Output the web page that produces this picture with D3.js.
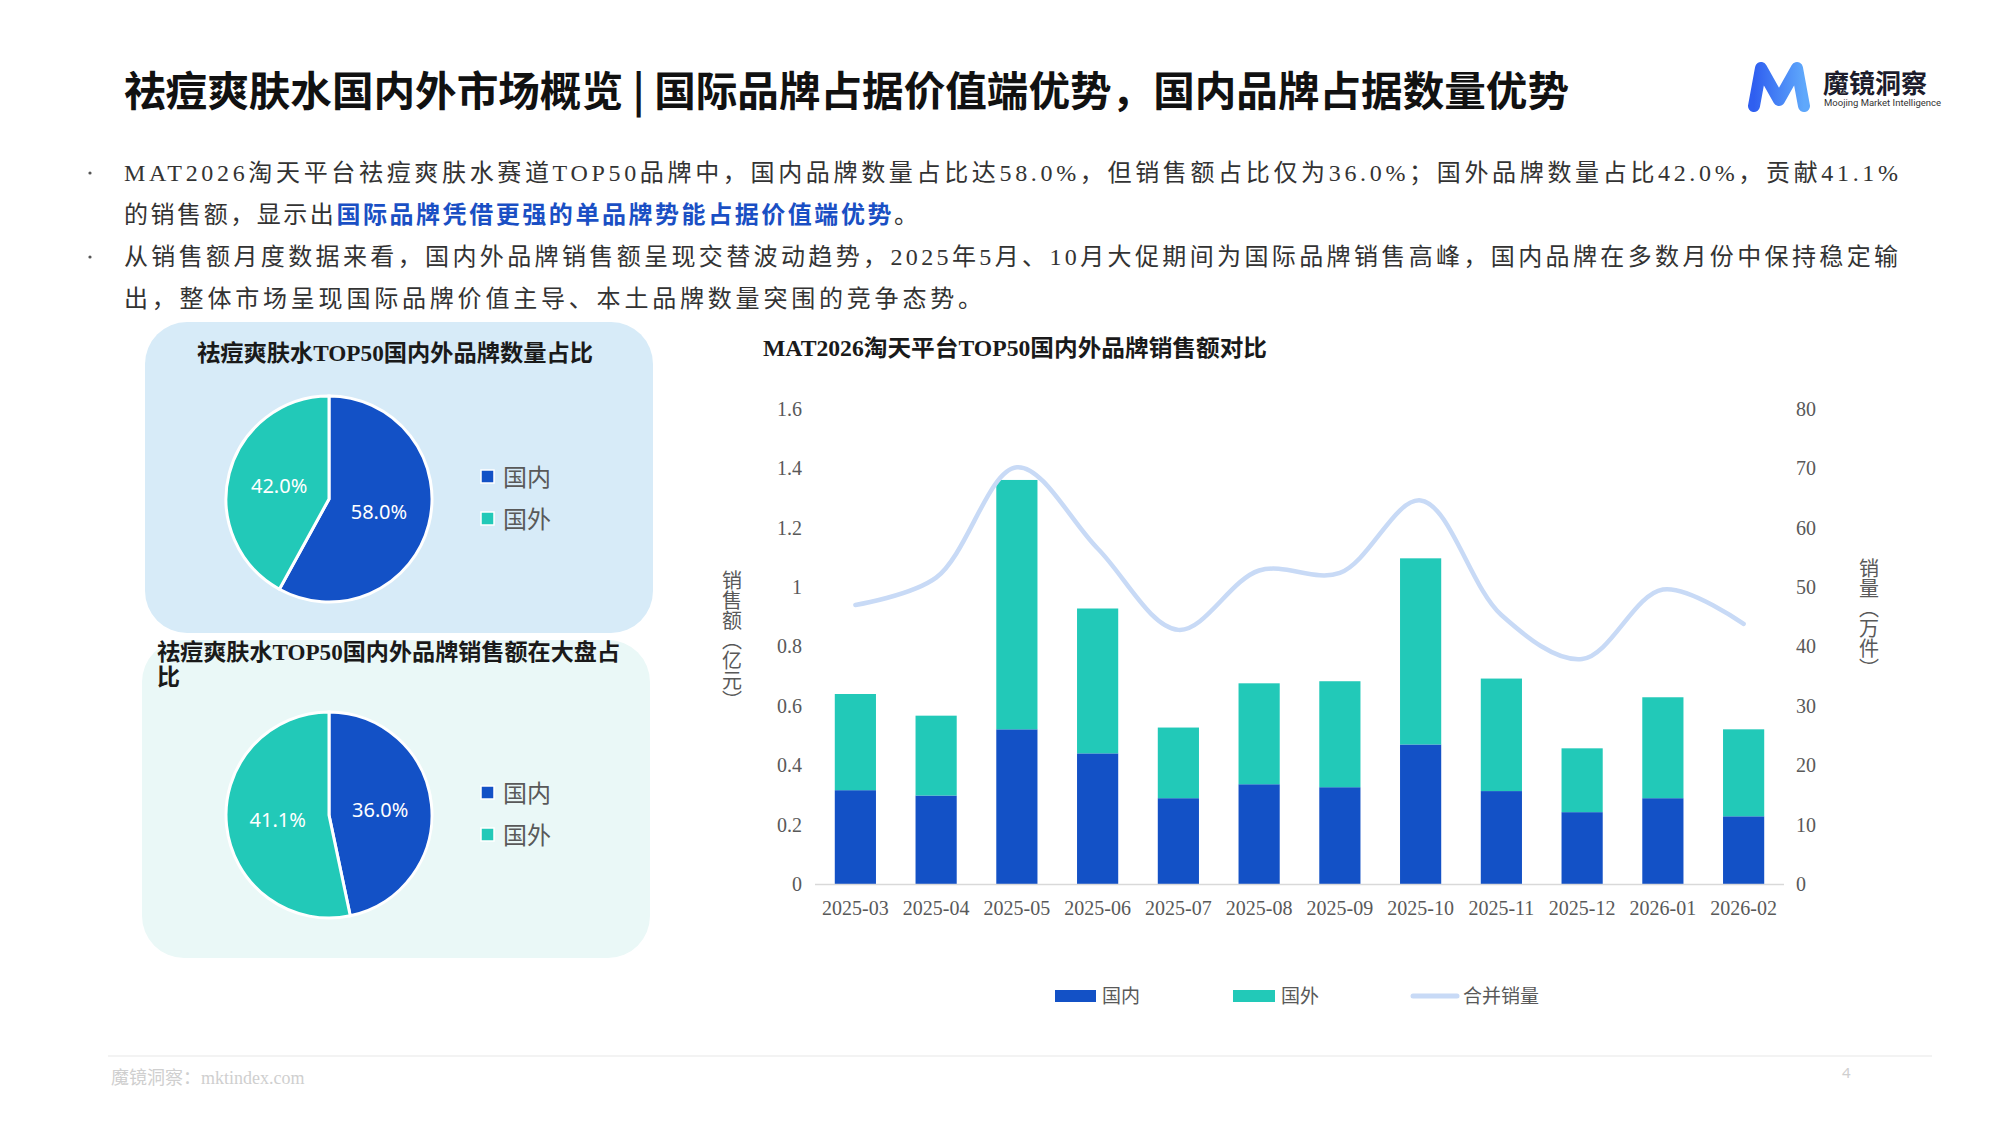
<!DOCTYPE html>
<html lang="zh">
<head>
<meta charset="UTF-8">
<title>祛痘爽肤水国内外市场概览</title>
<script src="https://cdnjs.cloudflare.com/ajax/libs/d3/7.8.5/d3.min.js"></script>
<style>
  body { margin: 0; background: #fff; }
  svg { display: block; }
  .serif { font-family: "Liberation Serif", "Noto Sans CJK SC", serif; }
  .cjk { font-family: "Noto Sans CJK SC", "Noto Sans", sans-serif; }
</style>
</head>
<body>
<svg id="page" width="2000" height="1125"></svg>
<script>
// ---- data ----
var months = ["2025-03", "2025-04", "2025-05", "2025-06", "2025-07", "2025-08",
              "2025-09", "2025-10", "2025-11", "2025-12", "2026-01", "2026-02"];
var domestic = [0.316, 0.298, 0.521, 0.440, 0.289, 0.336, 0.326, 0.470, 0.313, 0.242, 0.289, 0.228];
var foreign  = [0.324, 0.269, 0.840, 0.488, 0.238, 0.340, 0.357, 0.627, 0.379, 0.215, 0.340, 0.293];
var volume   = [47.0, 51.6, 70.2, 56.5, 42.8, 52.8, 52.4, 64.6, 45.3, 37.9, 49.6, 43.8];
var leftTicks = [0, 0.2, 0.4, 0.6, 0.8, 1, 1.2, 1.4, 1.6];
var rightTicks = [0, 10, 20, 30, 40, 50, 60, 70, 80];

var pieLabels = ["国内", "国外"];
var countShare = [58.0, 42.0];
var salesShare = [36.0, 41.1];

var BLUE = "#1351c6", TEAL = "#22c9b8", LINE = "#c8daf6";

var svg = d3.select("#page");

// ---- header ----
svg.append("text")
    .attr("class", "cjk")
    .attr("x", 124).attr("y", 106)
    .attr("font-size", 41).attr("font-weight", 700).attr("fill", "#111")
    .attr("textLength", 1445).attr("lengthAdjust", "spacingAndGlyphs")
    .text("祛痘爽肤水国内外市场概览 | 国际品牌占据价值端优势，国内品牌占据数量优势");

// logo
var grad = svg.append("defs").append("linearGradient")
    .attr("id", "logoGrad").attr("x1", "0").attr("x2", "1").attr("y1", "0").attr("y2", "0");
grad.append("stop").attr("offset", "0%").attr("stop-color", "#2f5ff0");
grad.append("stop").attr("offset", "100%").attr("stop-color", "#5fa8fb");
svg.append("path")
    .attr("d", "M1754,106 L1761,68 L1779,100 L1797,68 L1804,106")
    .attr("fill", "none").attr("stroke", "url(#logoGrad)")
    .attr("stroke-width", 12).attr("stroke-linecap", "round").attr("stroke-linejoin", "round");
svg.append("text").attr("class", "cjk")
    .attr("x", 1823).attr("y", 93).attr("font-size", 26).attr("font-weight", 700).attr("fill", "#1c1c2c")
    .text("魔镜洞察");
svg.append("text")
    .attr("x", 1824).attr("y", 106).attr("font-size", 9.5).attr("fill", "#333")
    .attr("font-family", "Roboto, sans-serif")
    .text("Moojing Market Intelligence");

// ---- bullet text ----
var bulletLines = [
  {y: 181, parts: [["MAT2026淘天平台祛痘爽肤水赛道TOP50品牌中，国内品牌数量占比达58.0%，但销售额占比仅为36.0%；国外品牌数量占比42.0%，贡献41.1%", false]], len: 1774, dot: true},
  {y: 223, parts: [["的销售额，显示出", false], ["国际品牌凭借更强的单品牌势能占据价值端优势", true], ["。", false]], len: 794},
  {y: 265, parts: [["从销售额月度数据来看，国内外品牌销售额呈现交替波动趋势，2025年5月、10月大促期间为国际品牌销售高峰，国内品牌在多数月份中保持稳定输", false]], len: 1774, dot: true},
  {y: 307, parts: [["出，整体市场呈现国际品牌价值主导、本土品牌数量突围的竞争态势。", false]], len: 858}
];
bulletLines.forEach(function(l) {
  if (l.dot) {
    svg.append("circle").attr("cx", 90).attr("cy", l.y - 8).attr("r", 1.6).attr("fill", "#555");
  }
  var t = svg.append("text").attr("class", "serif")
      .attr("x", 124).attr("y", l.y).attr("font-size", 24).attr("fill", "#333")
      .attr("textLength", l.len).attr("lengthAdjust", "spacing");
  l.parts.forEach(function(p) {
    t.append("tspan").text(p[0])
      .attr("fill", p[1] ? "#1a4fc4" : "#333")
      .attr("font-weight", p[1] ? 700 : 400);
  });
});

// ---- pie panels ----
function piePanel(cfg) {
  var g = svg.append("g");
  g.append("rect")
      .attr("x", cfg.box[0]).attr("y", cfg.box[1])
      .attr("width", cfg.box[2]).attr("height", cfg.box[3])
      .attr("rx", 42).attr("fill", cfg.bg);
  cfg.title.forEach(function(line, i) {
    var t = g.append("text").attr("class", "serif")
        .attr("x", cfg.titleX).attr("y", cfg.titleY + i * 25)
        .attr("text-anchor", cfg.anchor)
        .attr("font-size", 23).attr("font-weight", 700).attr("fill", "#1a1a1a")
        .text(line);
    if (cfg.titleLen[i]) t.attr("textLength", cfg.titleLen[i]).attr("lengthAdjust", "spacingAndGlyphs");
  });
  var pie = d3.pie().sort(null)(cfg.values);
  var arc = d3.arc().innerRadius(0).outerRadius(103);
  var pg = g.append("g").attr("transform", "translate(" + cfg.cx + "," + cfg.cy + ")");
  pg.selectAll("path").data(pie).enter().append("path")
      .attr("d", arc)
      .attr("fill", function(d, i) { return i === 0 ? BLUE : TEAL; })
      .attr("stroke", "#fff").attr("stroke-width", 3);
  pg.selectAll("text").data(pie).enter().append("text")
      .attr("transform", function(d) { return "translate(" + arc.centroid(d) + ")"; })
      .attr("text-anchor", "middle").attr("dy", "0.35em")
      .attr("font-family", "'Noto Sans', sans-serif").attr("font-size", 20).attr("fill", "#fff")
      .text(function(d) { return d.data.toFixed(1) + "%"; });
  pieLabels.forEach(function(lab, i) {
    var y = cfg.legendY + i * 42;
    g.append("rect").attr("x", 481).attr("y", y - 7).attr("width", 13).attr("height", 13)
        .attr("fill", i === 0 ? BLUE : TEAL).attr("stroke", "#fff").attr("stroke-width", 1.5);
    g.append("text").attr("class", "cjk")
        .attr("x", 503).attr("y", y).attr("dy", "0.36em")
        .attr("font-size", 24).attr("fill", "#595959").text(lab);
  });
}

piePanel({box: [145, 322, 508, 311], bg: "#d7ebf8", title: ["祛痘爽肤水TOP50国内外品牌数量占比"], titleLen: [396],
          titleX: 395, titleY: 361, anchor: "middle", values: countShare, cx: 329, cy: 499, legendY: 477});
piePanel({box: [142, 640, 508, 318], bg: "#eaf8f7", title: ["祛痘爽肤水TOP50国内外品牌销售额在大盘占", "比"], titleLen: [463, 0],
          titleX: 157, titleY: 660, anchor: "start", values: salesShare, cx: 329, cy: 815, legendY: 793});

// ---- stacked bar + line chart ----
var x = d3.scaleBand().domain(months).range([815, 1784]).paddingInner(0.49).paddingOuter(0.245);
var yL = d3.scaleLinear().domain([0, 1.6]).range([884, 409]);
var yR = d3.scaleLinear().domain([0, 80]).range([884, 409]);

svg.append("text").attr("class", "serif")
    .attr("x", 763).attr("y", 356).attr("font-size", 23).attr("font-weight", 700).attr("fill", "#1a1a1a")
    .attr("textLength", 504).attr("lengthAdjust", "spacingAndGlyphs")
    .text("MAT2026淘天平台TOP50国内外品牌销售额对比");

var chart = svg.append("g");

var stackData = months.map(function(m, i) { return {month: m, dom: domestic[i], fgn: foreign[i]}; });
var series = d3.stack().keys(["dom", "fgn"])(stackData);
chart.selectAll("g.series").data(series).enter().append("g")
    .attr("class", "series")
    .attr("fill", function(d, i) { return i === 0 ? BLUE : TEAL; })
  .selectAll("rect").data(function(d) { return d; }).enter().append("rect")
    .attr("x", function(d) { return x(d.data.month); })
    .attr("width", x.bandwidth())
    .attr("y", function(d) { return yL(d[1]); })
    .attr("height", function(d) { return yL(d[0]) - yL(d[1]); });

// baseline
chart.append("line").attr("x1", 815).attr("x2", 1784).attr("y1", 884.5).attr("y2", 884.5)
    .attr("stroke", "#d9d9d9").attr("stroke-width", 1.5);

// axes
var axL = d3.axisLeft(yL).tickValues(leftTicks).tickSize(0).tickPadding(0)
    .tickFormat(function(d) { return d3.format("~g")(d); });
var gL = chart.append("g").attr("transform", "translate(802,0)").call(axL);
var axR = d3.axisRight(yR).tickValues(rightTicks).tickSize(0).tickPadding(0);
var gR = chart.append("g").attr("transform", "translate(1796,0)").call(axR);
var axB = d3.axisBottom(x).tickSize(0).tickPadding(0);
var gB = chart.append("g").attr("transform", "translate(0,901)").call(axB);
[gL, gR, gB].forEach(function(g) {
  g.select(".domain").remove();
  g.selectAll("text").attr("font-family", "Liberation Serif, serif")
      .attr("font-size", 20).attr("fill", "#595959");
});

// axis titles (vertical)
svg.append("text").attr("class", "cjk")
    .attr("x", 732).attr("y", 640).attr("text-anchor", "middle")
    .style("writing-mode", "vertical-rl")
    .attr("font-size", 20).attr("fill", "#595959").text("销售额（亿元）");
svg.append("text").attr("class", "cjk")
    .attr("x", 1869).attr("y", 618).attr("text-anchor", "middle")
    .style("writing-mode", "vertical-rl")
    .attr("font-size", 20).attr("fill", "#595959").text("销量（万件）");

// line
var line = d3.line()
    .x(function(d, i) { return x(months[i]) + x.bandwidth() / 2; })
    .y(function(d) { return yR(d); })
    .curve(d3.curveCatmullRom.alpha(0.5));
chart.append("path").datum(volume)
    .attr("d", line).attr("fill", "none")
    .attr("stroke", LINE).attr("stroke-width", 4.5).attr("stroke-linecap", "round");

// legend
var legend = svg.append("g");
legend.append("rect").attr("x", 1055).attr("y", 990).attr("width", 41).attr("height", 12).attr("fill", BLUE);
legend.append("text").attr("class", "cjk").attr("x", 1102).attr("y", 996).attr("dy", "0.36em")
    .attr("font-size", 19).attr("fill", "#595959").text("国内");
legend.append("rect").attr("x", 1233).attr("y", 990).attr("width", 42).attr("height", 12).attr("fill", TEAL);
legend.append("text").attr("class", "cjk").attr("x", 1281).attr("y", 996).attr("dy", "0.36em")
    .attr("font-size", 19).attr("fill", "#595959").text("国外");
legend.append("line").attr("x1", 1413).attr("x2", 1457).attr("y1", 996).attr("y2", 996)
    .attr("stroke", LINE).attr("stroke-width", 5).attr("stroke-linecap", "round");
legend.append("text").attr("class", "cjk").attr("x", 1463).attr("y", 996).attr("dy", "0.36em")
    .attr("font-size", 19).attr("fill", "#595959").text("合并销量");

// ---- footer ----
svg.append("line").attr("x1", 108).attr("x2", 1932).attr("y1", 1056).attr("y2", 1056)
    .attr("stroke", "#efefef").attr("stroke-width", 1.5);
svg.append("text").attr("class", "serif")
    .attr("x", 111).attr("y", 1084).attr("font-size", 18).attr("fill", "#cfcfcf")
    .text("魔镜洞察：mktindex.com");
svg.append("text")
    .attr("x", 1842).attr("y", 1078).attr("font-size", 15).attr("fill", "#cfcfcf")
    .attr("font-family", "'Noto Sans', sans-serif")
    .text("4");
</script>
</body>
</html>
